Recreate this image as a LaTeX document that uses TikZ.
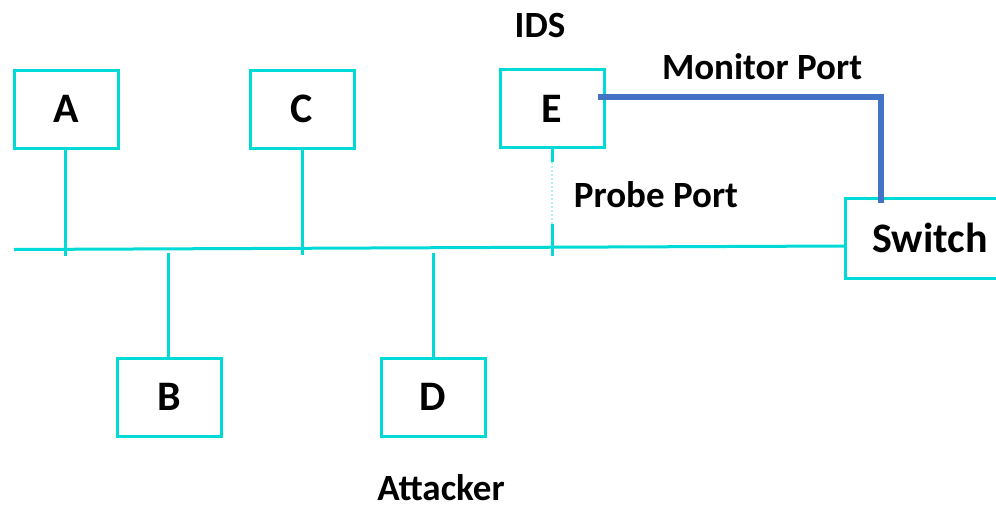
\documentclass[tikz,border=0pt]{standalone}
\usepackage{fontspec}
\setmainfont{Carlito}
\definecolor{netcyan}{RGB}{0,218,214}
\definecolor{monblue}{RGB}{68,114,196}
\begin{document}
\begin{tikzpicture}[x=1pt,y=-1pt,
  hostbox/.style={draw=netcyan, line width=3pt, minimum width=104pt, minimum height=78pt,
    inner sep=0pt, font=\fontsize{42}{50}\selectfont\bfseries},
  wire/.style={netcyan, line width=3pt},
  faintwire/.style={netcyan!35, line width=2pt, dotted},
  monitor/.style={monblue, line width=5.5pt},
  lbl/.style={font=\fontsize{37}{44}\selectfont\bfseries, inner sep=0pt}]
  \useasboundingbox (0,0) rectangle (996,506);
  \clip (0,0) rectangle (996,506);

  % hosts on the shared segment
  \node[hostbox] (A) at (66,109) {A};
  \node[hostbox] (C) at (302,109) {C};
  \node[hostbox] (E) at (552,108.5) {E};
  \node[hostbox] (B) at (169,397) {B};
  \node[hostbox] (D) at (433,397) {D};
  \node[hostbox, minimum width=170pt, minimum height=80pt] (Switch) at (930,238) {Switch};

  % labels
  \node[lbl] (ids) at (540,25) {IDS};
  \node[lbl] (mon) at (762,67) {Monitor Port};
  \node[lbl] (probe) at (656,195) {Probe Port};
  \node[lbl] (att) at (441,488) {Attacker};

  % bus ends and stem ends
  \coordinate (busL) at (14,249.5);
  \coordinate (busR) at (845,246);
  \coordinate (aEnd) at (65,256);
  \coordinate (cEnd) at (302,255);
  \coordinate (bTop) at (168,253);
  \coordinate (dTop) at (433,253);
  \coordinate (eGap1) at (552,162);
  \coordinate (eGap2) at (552,224);
  \coordinate (eEnd) at (552,256);

  % bus
  \draw[wire] (busL) -- (busR);

  % stems
  \draw[wire] (A.south -| aEnd) -- (aEnd);
  \draw[wire] (C.south -| cEnd) -- (cEnd);
  \draw[wire] (bTop) -- (B.north -| bTop);
  \draw[wire] (dTop) -- (D.north -| dTop);
  \draw[wire] (E.south) -- (eGap1);
  \draw[faintwire] (eGap1) -- (eGap2);
  \draw[wire] (eGap2) -- (eEnd);

  % monitor port link from the IDS to the switch
  \coordinate (mStart) at (598,97);
  \coordinate (mCorner) at (881,97);
  \coordinate (mEnd) at (881,203);
  \draw[monitor, line cap=butt] (mStart) -- (mCorner) -- (mEnd);
\end{tikzpicture}
\end{document}
